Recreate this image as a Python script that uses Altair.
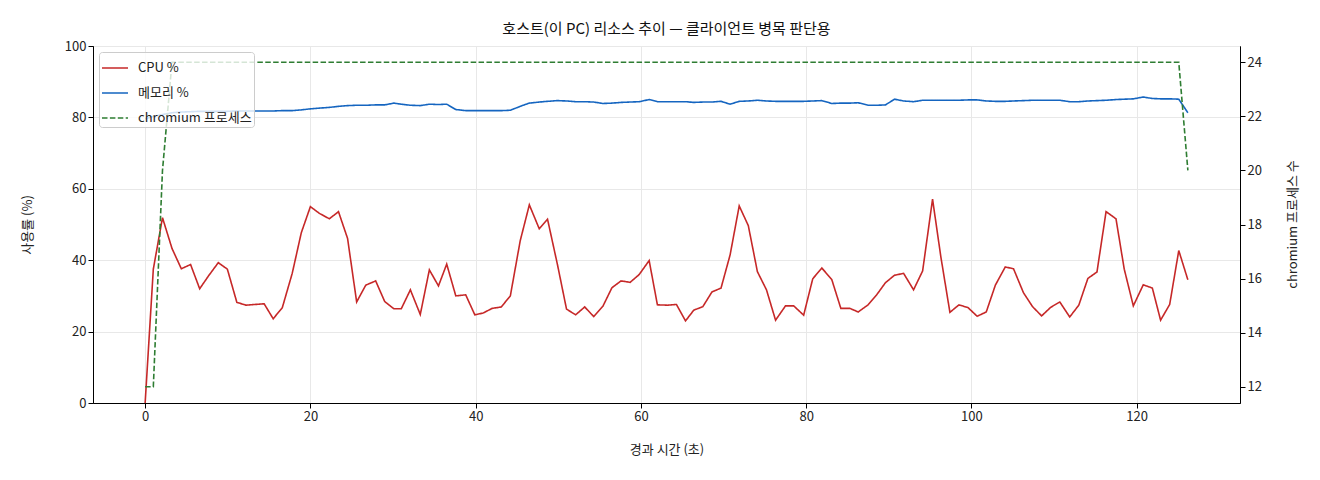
import altair as alt
import pandas as pd

FONT = "Noto Sans CJK KR"

# elapsed seconds for each sample
times = [0, 0.99, 2.1, 3.25, 4.38, 5.5, 6.6, 7.7, 8.85, 9.95,
         11.1, 12.2, 13.3, 14.4, 15.5, 16.6, 17.8, 18.9, 20.0, 21.1,
         22.3, 23.4, 24.5, 25.6, 26.7, 27.9, 29.0, 30.1, 31.0, 32.1,
         33.3, 34.4, 35.5, 36.5, 37.6, 38.8, 39.9, 40.9, 42.0, 43.1,
         44.2, 45.4, 46.5, 47.7, 48.7, 49.9, 51.0, 52.1, 53.2, 54.3,
         55.4, 56.5, 57.6, 58.7, 59.8, 61.0, 62.0, 63.2, 64.3, 65.4,
         66.4, 67.5, 68.6, 69.7, 70.8, 71.9, 73.0, 74.1, 75.2, 76.3,
         77.5, 78.5, 79.7, 80.8, 81.9, 83.1, 84.2, 85.3, 86.3, 87.5,
         88.6, 89.6, 90.7, 91.8, 93.0, 94.1, 95.3, 96.3, 97.4, 98.5,
         99.6, 100.7, 101.8, 102.9, 104.1, 105.1, 106.3, 107.4, 108.5, 109.6,
         110.7, 111.9, 113.0, 114.1, 115.2, 116.3, 117.5, 118.5, 119.6, 120.8,
         121.9, 122.9, 124.0, 125.1, 126.2]

cpu = [0, 37.5, 51.9, 43.3, 37.6, 38.8, 32.0, 35.7, 39.3, 37.5,
       28.2, 27.4, 27.6, 27.8, 23.6, 26.7, 36.3, 47.7, 55.0, 53.1,
       51.6, 53.6, 46.1, 28.3, 33.0, 34.2, 28.4, 26.4, 26.4, 31.7,
       24.8, 37.3, 32.8, 38.9, 30.0, 30.3, 24.7, 25.2, 26.5, 26.9,
       30.0, 45.5, 55.5, 48.8, 51.5, 38.8, 26.3, 24.7, 26.9, 24.2,
       27.1, 32.3, 34.2, 33.8, 36.0, 39.9, 27.5, 27.4, 27.6, 23.0,
       26.0, 27.0, 31.1, 32.2, 41.5, 55.2, 49.7, 36.8, 31.7, 23.2,
       27.2, 27.2, 24.6, 34.8, 37.8, 34.6, 26.5, 26.5, 25.5, 27.5,
       30.5, 33.7, 35.8, 36.3, 31.7, 37.0, 57.1, 41.0, 25.4, 27.5,
       26.7, 24.3, 25.5, 33.0, 38.1, 37.6, 30.9, 27.0, 24.4, 26.8,
       28.3, 24.1, 27.4, 34.9, 36.7, 53.6, 51.6, 37.5, 27.2, 33.1,
       32.2, 23.2, 27.6, 42.7, 34.5]

mem = [79.6, 80.3, 80.8, 81.3, 81.5, 81.6, 81.7, 81.7, 81.7, 81.7,
       81.8, 81.8, 81.8, 81.8, 81.8, 81.9, 81.9, 82.1, 82.4, 82.6,
       82.8, 83.1, 83.3, 83.4, 83.4, 83.5, 83.5, 84.0, 83.7, 83.4,
       83.3, 83.7, 83.6, 83.7, 82.2, 81.9, 81.9, 81.9, 81.9, 81.9,
       82.0, 83.1, 84.0, 84.3, 84.5, 84.7, 84.6, 84.4, 84.4, 84.3,
       83.9, 84.0, 84.2, 84.3, 84.4, 85.0, 84.4, 84.4, 84.4, 84.4,
       84.2, 84.3, 84.3, 84.5, 83.7, 84.5, 84.6, 84.8, 84.6, 84.5,
       84.5, 84.5, 84.5, 84.6, 84.7, 83.9, 84.0, 84.0, 84.1, 83.4,
       83.4, 83.5, 85.1, 84.6, 84.4, 84.8, 84.8, 84.8, 84.8, 84.8,
       84.9, 84.9, 84.6, 84.5, 84.5, 84.6, 84.7, 84.8, 84.8, 84.8,
       84.8, 84.4, 84.4, 84.6, 84.7, 84.8, 85.0, 85.1, 85.2, 85.7,
       85.3, 85.2, 85.2, 85.1, 81.3]

chromium = [12, 12, 20, 24, 24, 24, 24, 24, 24, 24,
            24, 24, 24, 24, 24, 24, 24, 24, 24, 24,
            24, 24, 24, 24, 24, 24, 24, 24, 24, 24,
            24, 24, 24, 24, 24, 24, 24, 24, 24, 24,
            24, 24, 24, 24, 24, 24, 24, 24, 24, 24,
            24, 24, 24, 24, 24, 24, 24, 24, 24, 24,
            24, 24, 24, 24, 24, 24, 24, 24, 24, 24,
            24, 24, 24, 24, 24, 24, 24, 24, 24, 24,
            24, 24, 24, 24, 24, 24, 24, 24, 24, 24,
            24, 24, 24, 24, 24, 24, 24, 24, 24, 24,
            24, 24, 24, 24, 24, 24, 24, 24, 24, 24,
            24, 24, 24, 24, 20]

names = ["CPU %", "메모리 %", "chromium 프로세스"]
colors = ["#c62828", "#1565c0", "#2e7d32"]
dashes = [[1, 0], [1, 0], [5.5, 2.4]]

left_df = pd.DataFrame({
    "t": times + times,
    "value": cpu + mem,
    "series": [names[0]] * len(times) + [names[1]] * len(times),
})
right_df = pd.DataFrame({"t": times, "value": chromium, "series": names[2]})

legend = alt.Legend(
    title=None, orient="top-left", offset=6, padding=2,
    fillColor="rgba(255,255,255,0.8)", strokeColor="#cccccc", cornerRadius=3,
    symbolType="stroke", symbolStrokeWidth=1.6, symbolSize=676,
    rowPadding=4, labelOffset=9, labelFont=FONT, labelFontSize=13, labelColor="#222",
)
color = alt.Color("series:N", scale=alt.Scale(domain=names, range=colors), legend=legend)
dash = alt.StrokeDash("series:N", scale=alt.Scale(domain=names, range=dashes), legend=legend)

x = alt.X("t:Q", title="경과 시간 (초)",
          scale=alt.Scale(domain=[-6.31, 132.51], nice=False, zero=False),
          axis=alt.Axis(values=[0, 20, 40, 60, 80, 100, 120], grid=True, titlePadding=20))

left = alt.Chart(left_df).mark_line(strokeWidth=1.6).encode(
    x=x,
    y=alt.Y("value:Q", title="사용률 (%)",
            scale=alt.Scale(domain=[0, 100], nice=False),
            axis=alt.Axis(orient="left", values=[0, 20, 40, 60, 80, 100], grid=True,
                          titlePadding=30)),
    color=color,
    strokeDash=dash,
    detail="series:N",
)

right = alt.Chart(right_df).mark_line(strokeWidth=1.6).encode(
    x=x,
    y=alt.Y("value:Q", title="chromium 프로세스 수",
            scale=alt.Scale(domain=[11.4, 24.6], nice=False, zero=False),
            axis=alt.Axis(orient="right", values=[12, 14, 16, 18, 20, 22, 24], grid=False,
                          titleAngle=270, titleX=52, titleY=178,
                          titleAlign="center", titleBaseline="middle")),
    color=color,
    strokeDash=dash,
)

chart = alt.layer(left, right).resolve_scale(y="independent").properties(
    width=1147, height=357,
    autosize=alt.AutoSizeParams(type="none"),
    padding={"left": 85, "top": 38, "right": 72, "bottom": 69},
    title=alt.TitleParams("호스트(이 PC) 리소스 추이 — 클라이언트 병목 판단용",
                          font=FONT, fontSize=15, fontWeight="normal",
                          color="#111", anchor="middle", offset=3),
).configure_view(
    stroke="black", strokeWidth=1
).configure_axis(
    labelFont=FONT, labelFontSize=13, labelColor="#222",
    titleFont=FONT, titleFontSize=13, titleFontWeight="normal", titleColor="#222",
    domainColor="black", tickColor="black", tickSize=5,
    gridColor="#e8e8e8",
)

chart.save("out.html", embed_options={"renderer": "svg", "actions": False})
